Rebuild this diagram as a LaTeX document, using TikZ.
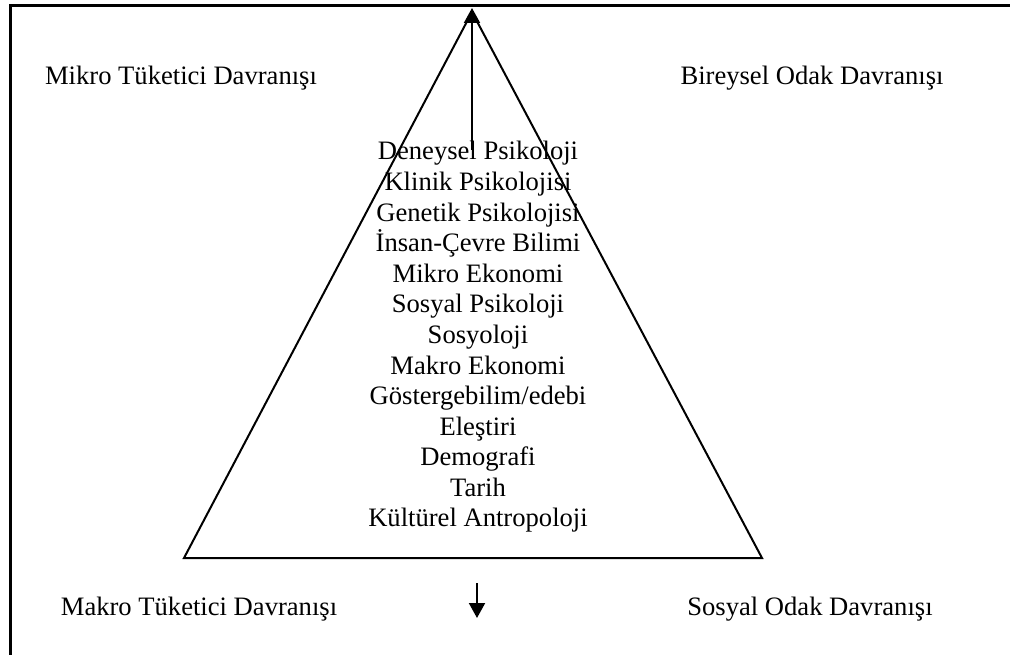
\documentclass[tikz,border=0pt]{standalone}
\usepackage{fontspec}
\setmainfont{Liberation Serif}
\usetikzlibrary{arrows.meta}

\tikzset{
  side label/.style={font=\fontsize{26.6}{30.6}\selectfont, anchor=base, inner sep=0pt},
  field label/.style={font=\fontsize{26.6}{30.6}\selectfont, anchor=base, inner sep=0pt},
  axis arrow/.style={line width=2pt, -{Triangle[length=15pt,width=16pt]}}
}

\begin{document}
\begin{tikzpicture}[x=1pt,y=-1pt]
\useasboundingbox (0,0) rectangle (1010,655);

% frame
\draw[line width=3pt] (10,660) -- (10,5.5) -- (1015,5.5);

% triangle
\coordinate (apex) at (472,12);
\coordinate (baseL) at (184,558);
\coordinate (baseR) at (762,558);
\draw[line width=2pt] (apex) -- (baseL) -- (baseR) -- cycle;

% arrows
\coordinate (upstart) at (472,150);
\coordinate (uptip) at (472,8);
\draw[axis arrow] (upstart) -- (uptip);
\coordinate (downstart) at (477,583);
\coordinate (downtip) at (477,618);
\draw[axis arrow] (downstart) -- (downtip);

% corner labels
\node[side label] (mikro) at (181,85) {Mikro Tüketici Davranışı};
\node[side label] (bireysel) at (812,85) {Bireysel Odak Davranışı};
\node[side label] (makro) at (199,615) {Makro Tüketici Davranışı};
\node[side label] (sosyal) at (810,615) {Sosyal Odak Davranışı};

% disciplines
\foreach \name [count=\i from 0] in {Deneysel Psikoloji, Klinik Psikolojisi,
    Genetik Psikolojisi, İnsan-Çevre Bilimi, Mikro Ekonomi, Sosyal Psikoloji,
    Sosyoloji, Makro Ekonomi, Göstergebilim/edebi, Eleştiri, Demografi,
    Tarih, Kültürel Antropoloji}
  \node[field label] (field\i) at (478,{160+30.58*\i}) {\name};

\end{tikzpicture}
\end{document}
